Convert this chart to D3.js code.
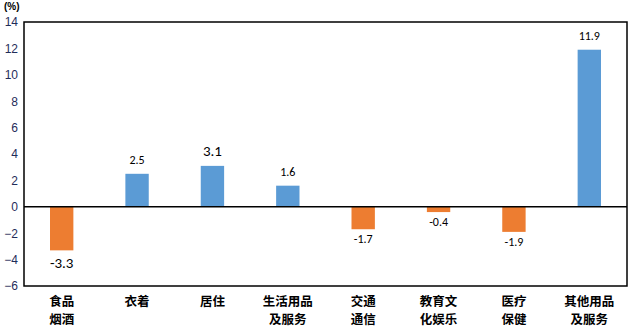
<!DOCTYPE html>
<html><head><meta charset="utf-8">
<script src="https://cdn.jsdelivr.net/npm/d3@7"></script>
<style>body{margin:0;background:#fff}</style>
</head><body>
<svg id="c" width="636" height="334"></svg>
<script>
const categories = [["食品","烟酒"],["衣着"],["居住"],["生活用品","及服务"],["交通","通信"],["教育文","化娱乐"],["医疗","保健"],["其他用品","及服务"]];
const values = [-3.3, 2.5, 3.1, 1.6, -1.7, -0.4, -1.9, 11.9];
const yTicks = [-6,-4,-2,0,2,4,6,8,10,12,14];
const bigLabels = [0, 2];

const svg = d3.select("#c");
const L = 24, R = 627, T = 22, B = 286;
const x = d3.scaleBand().domain(d3.range(values.length)).range([L, R]).paddingInner(0.69).paddingOuter(0.345);
const y = d3.scaleLinear().domain([-6, 14]).range([B, T]);

svg.append("rect").attr("x", L).attr("y", T).attr("width", R - L).attr("height", B - T)
  .attr("fill", "none").attr("stroke", "#000").attr("stroke-width", 1.5);

const yAxis = svg.append("g").attr("transform", `translate(${L},0)`)
  .call(d3.axisLeft(y).tickValues(yTicks).tickSize(0).tickPadding(6));
yAxis.select(".domain").remove();
yAxis.selectAll("text").attr("font-family", "Arial, Liberation Sans, sans-serif").attr("font-size", 12).attr("fill", "#1f2d5a");

svg.append("text").attr("x", 4).attr("y", 10).text("(%)")
  .attr("font-family", "Liberation Sans, Arial, sans-serif").attr("font-weight", "bold").attr("font-size", 10);

svg.selectAll("rect.bar").data(values).join("rect").attr("class", "bar")
  .attr("x", (d, i) => x(i)).attr("width", x.bandwidth())
  .attr("y", d => y(Math.max(0, d))).attr("height", d => Math.abs(y(d) - y(0)))
  .attr("fill", d => d >= 0 ? "#5b9bd5" : "#ed7d31");

svg.append("line").attr("x1", L).attr("x2", R).attr("y1", y(0)).attr("y2", y(0))
  .attr("stroke", "#000").attr("stroke-width", 1.5);

svg.selectAll("text.val").data(values).join("text").attr("class", "val")
  .attr("x", (d, i) => x(i) + x.bandwidth() / 2)
  .attr("y", (d, i) => d >= 0 ? y(d) - 10 : y(d) + (bigLabels.includes(i) ? 18 : 14))
  .attr("text-anchor", "middle")
  .attr("font-family", "Calibri, Carlito, Liberation Sans, sans-serif")
  .attr("font-size", (d, i) => bigLabels.includes(i) ? 15 : 12)
  .attr("fill", "#000").text(d => d.toFixed(1));

const cat = svg.selectAll("text.cat").data(categories).join("text").attr("class", "cat")
  .attr("x", (d, i) => x(i) + x.bandwidth() / 2).attr("y", 306)
  .attr("text-anchor", "middle").attr("font-family", "Noto Sans CJK SC, sans-serif")
  .attr("font-weight", "bold").attr("font-size", 12.5).attr("fill", "#000");
cat.selectAll("tspan").data(d => d).join("tspan")
  .attr("x", function() { return d3.select(this.parentNode).attr("x"); })
  .attr("dy", (d, j) => j === 0 ? 0 : 18).text(d => d);
</script>
</body></html>
